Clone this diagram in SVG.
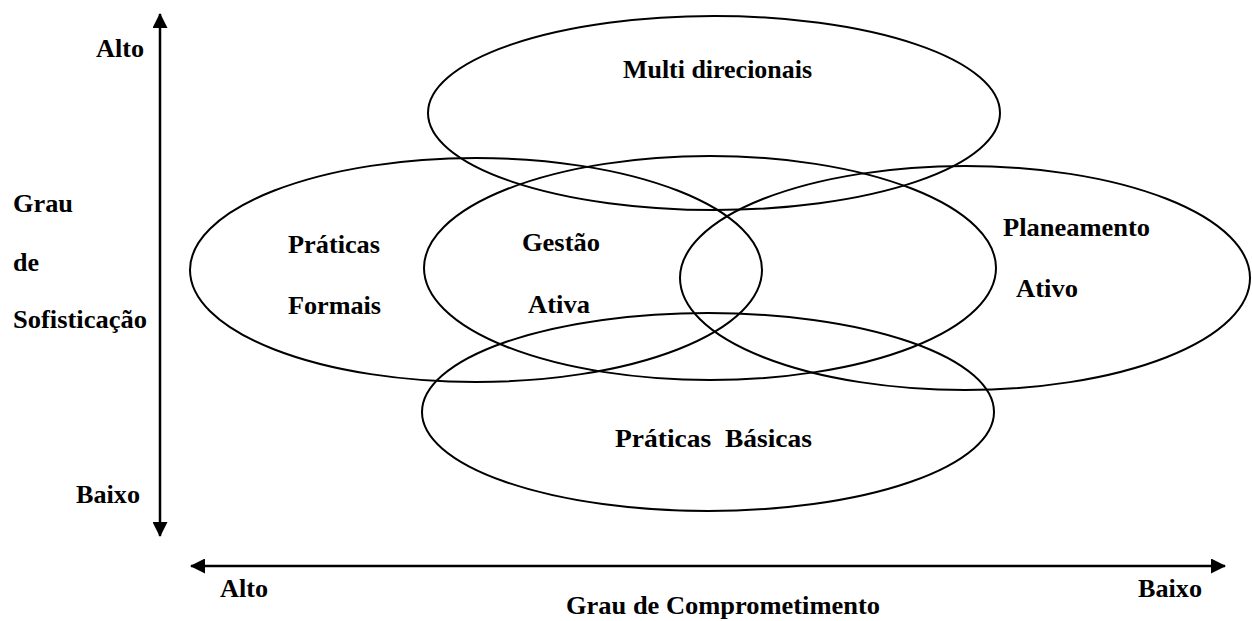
<svg xmlns="http://www.w3.org/2000/svg" width="1252" height="621" viewBox="0 0 1252 621">
<style>
.e{fill:none;stroke:#000;stroke-width:2}
.t{font-family:"Liberation Serif","Times New Roman",serif;font-weight:bold;font-size:25px;fill:#000}
.ax{stroke:#000;stroke-width:2.5;fill:none}
</style>
<defs>
<marker id="ah" viewBox="0 0 15 15" refX="14" refY="7.5" markerWidth="15" markerHeight="15" markerUnits="userSpaceOnUse" orient="auto-start-reverse">
<path d="M0,0 L15,7.5 L0,15 Z" fill="#000"/>
</marker>
</defs>
<rect width="1252" height="621" fill="#fff"/>
<g id="connectors">
<line class="ax" x1="160" y1="14" x2="160" y2="536" marker-start="url(#ah)" marker-end="url(#ah)"/>
<line class="ax" x1="191" y1="566" x2="1225" y2="566" marker-start="url(#ah)" marker-end="url(#ah)"/>
</g>
<g id="multi">
<ellipse class="e" cx="714" cy="113" rx="286" ry="97"/>
<text class="t" x="623" y="78" textLength="189" lengthAdjust="spacingAndGlyphs">Multi direcionais</text>
</g>
<g id="praticas-formais">
<ellipse class="e" cx="476" cy="270" rx="286" ry="112"/>
<text class="t" x="288" y="253" textLength="92" lengthAdjust="spacingAndGlyphs">Práticas</text>
<text class="t" x="288" y="314" textLength="93" lengthAdjust="spacingAndGlyphs">Formais</text>
</g>
<g id="gestao-ativa">
<ellipse class="e" cx="710" cy="268" rx="286" ry="112"/>
<text class="t" x="522" y="251" textLength="78" lengthAdjust="spacingAndGlyphs">Gestão</text>
<text class="t" x="528" y="313" textLength="62" lengthAdjust="spacingAndGlyphs">Ativa</text>
</g>
<g id="planeamento-ativo">
<ellipse class="e" cx="965" cy="278" rx="285" ry="112"/>
<text class="t" x="1003" y="236" textLength="147" lengthAdjust="spacingAndGlyphs">Planeamento</text>
<text class="t" x="1016" y="297" textLength="62" lengthAdjust="spacingAndGlyphs">Ativo</text>
</g>
<g id="praticas-basicas">
<ellipse class="e" cx="708" cy="412" rx="286" ry="99"/>
<text class="t" x="615" y="447" xml:space="preserve" textLength="197" lengthAdjust="spacingAndGlyphs">Práticas  Básicas</text>
</g>
<g id="labels">
<text class="t" x="96" y="57" textLength="48" lengthAdjust="spacingAndGlyphs">Alto</text>
<text class="t" x="13" y="212" textLength="60" lengthAdjust="spacingAndGlyphs">Grau</text>
<text class="t" x="13" y="271" textLength="26" lengthAdjust="spacingAndGlyphs">de</text>
<text class="t" x="13" y="328" textLength="134" lengthAdjust="spacingAndGlyphs">Sofisticação</text>
<text class="t" x="76" y="503" textLength="64" lengthAdjust="spacingAndGlyphs">Baixo</text>
<text class="t" x="220" y="597" textLength="48" lengthAdjust="spacingAndGlyphs">Alto</text>
<text class="t" x="566" y="614" textLength="314" lengthAdjust="spacingAndGlyphs">Grau de Comprometimento</text>
<text class="t" x="1138" y="597" textLength="64" lengthAdjust="spacingAndGlyphs">Baixo</text>
</g>
</svg>
